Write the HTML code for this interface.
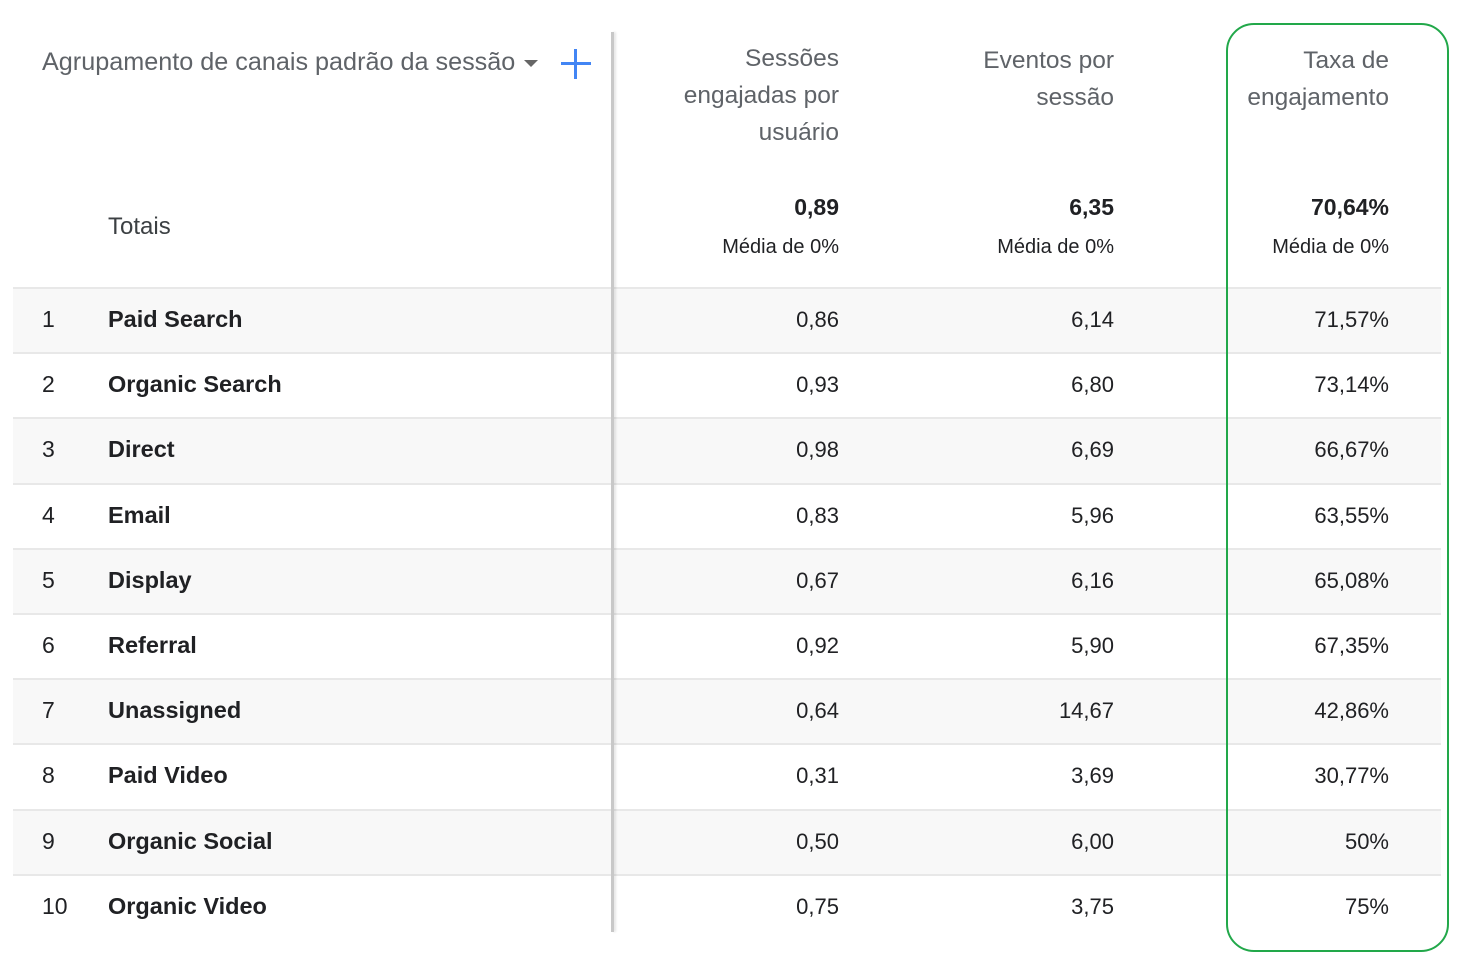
<!DOCTYPE html>
<html><head><meta charset="utf-8"><style>
body{margin:0;width:1466px;height:964px;background:#fff;font-family:"Liberation Sans",sans-serif;position:relative;overflow:hidden}
.a{position:absolute;white-space:nowrap}
.r{text-align:right}
.h{color:#5f6368;font-size:24px;line-height:37px}
.row{position:absolute;left:13px;width:1428px;height:65px;border-top:2px solid #e8e8e8}
.t{font-size:23px;color:#202124}
.n{font-size:22px;color:#202124}
</style></head><body>
<div class="a h" style="left:42px;top:44px;font-size:25.2px">Agrupamento de canais padrão da sessão</div>
<div class="a" style="left:524px;top:60px;width:0;height:0;border-left:7px solid transparent;border-right:7px solid transparent;border-top:7px solid #666"></div>
<div class="a" style="left:561px;top:62px;width:30px;height:3px;background:#4285f4"></div>
<div class="a" style="left:574px;top:49px;width:3px;height:30px;background:#4285f4"></div>
<div class="a h r" style="right:627px;top:40px;font-size:24.5px">Sessões<br>engajadas por<br>usuário</div>
<div class="a h r" style="right:352px;top:42px;font-size:24.5px">Eventos por<br>sessão</div>
<div class="a h r" style="right:77px;top:42px;font-size:24.5px">Taxa de<br>engajamento</div>
<div class="a t" style="left:108px;top:213px;color:#3c4043;font-size:24px">Totais</div>
<div class="a r" style="right:627px;top:194px;font-size:23px;font-weight:bold;color:#202124">0,89</div>
<div class="a r" style="right:352px;top:194px;font-size:23px;font-weight:bold;color:#202124">6,35</div>
<div class="a r" style="right:77px;top:194px;font-size:23px;font-weight:bold;color:#202124">70,64%</div>
<div class="a r n" style="right:627px;top:236px;font-size:20px">Média de 0%</div>
<div class="a r n" style="right:352px;top:236px;font-size:20px">Média de 0%</div>
<div class="a r n" style="right:77px;top:236px;font-size:20px">Média de 0%</div>
<div id="rows"></div>
<div class="a" style="left:611px;top:32px;width:3px;height:900px;background:#c8c8c8;box-shadow:2px 0 2px rgba(0,0,0,0.1)"></div>
<div class="a" style="left:1226px;top:23px;width:219px;height:925px;border:2.5px solid #22a84a;border-radius:28px"></div>
<script>
var d=[["Paid Search","0,86","6,14","71,57%"],["Organic Search","0,93","6,80","73,14%"],["Direct","0,98","6,69","66,67%"],["Email","0,83","5,96","63,55%"],["Display","0,67","6,16","65,08%"],["Referral","0,92","5,90","67,35%"],["Unassigned","0,64","14,67","42,86%"],["Paid Video","0,31","3,69","30,77%"],["Organic Social","0,50","6,00","50%"],["Organic Video","0,75","3,75","75%"]];
var h="";
d.forEach(function(r,i){var y=287+i*65.2;
h+='<div class="row" style="top:'+y+'px;background:'+(i%2==0?'#f8f8f8':'#fff')+'"></div>';
var ty=y+19;
h+='<div class="a t" style="left:42px;top:'+ty+'px">'+(i+1)+'</div>';
h+='<div class="a t" style="left:108px;top:'+ty+'px;font-weight:bold;color:#202124;font-size:23.5px">'+r[0]+'</div>';
h+='<div class="a r n" style="right:627px;top:'+(ty+1)+'px">'+r[1]+'</div>';
h+='<div class="a r n" style="right:352px;top:'+(ty+1)+'px">'+r[2]+'</div>';
h+='<div class="a r n" style="right:77px;top:'+(ty+1)+'px">'+r[3]+'</div>';});
document.getElementById("rows").innerHTML=h;
</script>
</body></html>
